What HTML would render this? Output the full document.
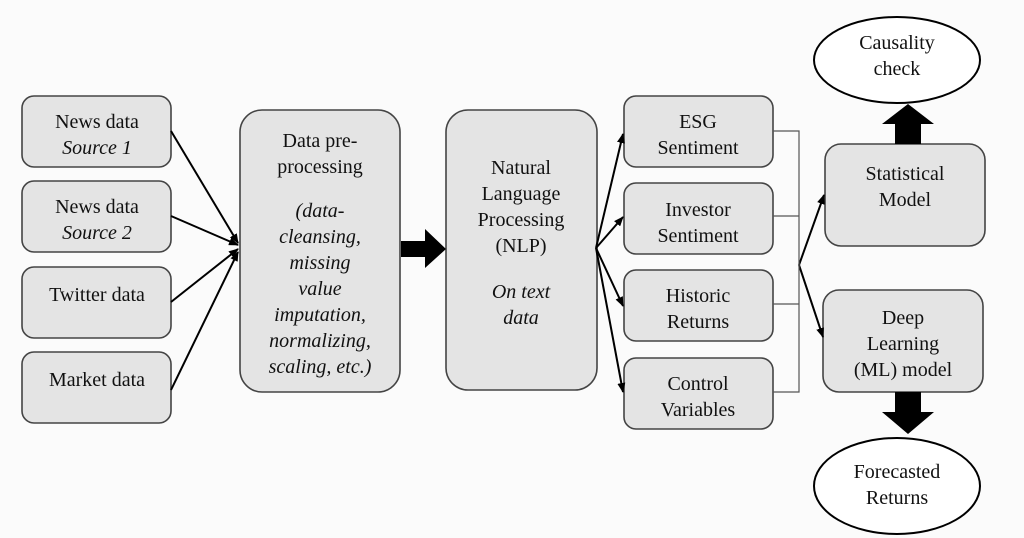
<!DOCTYPE html>
<html><head><style>
body{margin:0;background:#fff;}
svg{display:block;font-family:"Liberation Serif",serif;}
</style></head><body>
<svg width="1024" height="538" viewBox="0 0 1024 538">
<defs>
<marker id="a" markerWidth="10" markerHeight="8" refX="9" refY="4" orient="auto" markerUnits="userSpaceOnUse"><path d="M0,0 L10,4 L0,8z" fill="#000"/></marker>
</defs>
<rect width="1024" height="538" fill="#fbfbfb"/>
<g fill="#e4e4e4" stroke="#444" stroke-width="1.6">
<rect x="22" y="96" width="149" height="71" rx="12"/>
<rect x="22" y="181" width="149" height="71" rx="12"/>
<rect x="22" y="267" width="149" height="71" rx="12"/>
<rect x="22" y="352" width="149" height="71" rx="12"/>
<rect x="240" y="110" width="160" height="282" rx="22"/>
<rect x="446" y="110" width="151" height="280" rx="22"/>
<rect x="624" y="96" width="149" height="71" rx="12"/>
<rect x="624" y="183" width="149" height="71" rx="12"/>
<rect x="624" y="270" width="149" height="71" rx="12"/>
<rect x="624" y="358" width="149" height="71" rx="12"/>
<rect x="825" y="144" width="160" height="102" rx="16"/>
<rect x="823" y="290" width="160" height="102" rx="16"/>
</g>
<g stroke="#000" stroke-width="2" fill="none">
<line x1="171" y1="131" x2="238" y2="243" marker-end="url(#a)"/>
<line x1="171" y1="216" x2="238" y2="245" marker-end="url(#a)"/>
<line x1="171" y1="302" x2="238" y2="249" marker-end="url(#a)"/>
<line x1="171" y1="390" x2="238" y2="252" marker-end="url(#a)"/>
<line x1="596" y1="248" x2="623" y2="134" marker-end="url(#a)"/>
<line x1="596" y1="248" x2="623" y2="217" marker-end="url(#a)"/>
<line x1="596" y1="248" x2="623" y2="306" marker-end="url(#a)"/>
<line x1="596" y1="248" x2="623" y2="392" marker-end="url(#a)"/>
<line x1="799" y1="265" x2="824" y2="195" marker-end="url(#a)"/>
<line x1="799" y1="265" x2="823" y2="337" marker-end="url(#a)"/>
</g>
<path d="M773,131 H799 V392 H773 M773,216 H799 M773,304 H799" stroke="#555" stroke-width="1.2" fill="none"/>
<path d="M401,241 H425 V229 L446,249 L425,268 V257 H401z" fill="#000"/>
<path d="M895,144 V124 H882 L908,104 L934,124 H921 V144z" fill="#000"/>
<path d="M895,392 V412 H882 L908,434 L934,412 H921 V392z" fill="#000"/>
<ellipse cx="897" cy="60" rx="83" ry="43" fill="#fff" stroke="#000" stroke-width="2"/>
<ellipse cx="897" cy="486" rx="83" ry="48" fill="#fff" stroke="#000" stroke-width="2"/>
<g font-size="20" text-anchor="middle" fill="#111">
<text x="97" y="128">News data</text><text x="97" y="154" font-style="italic">Source 1</text>
<text x="97" y="213">News data</text><text x="97" y="239" font-style="italic">Source 2</text>
<text x="97" y="301">Twitter data</text>
<text x="97" y="386">Market data</text>
<text x="320" y="147">Data pre-</text><text x="320" y="173">processing</text>
<g font-style="italic"><text x="320" y="217">(data-</text><text x="320" y="243">cleansing,</text><text x="320" y="269">missing</text><text x="320" y="295">value</text><text x="320" y="321">imputation,</text><text x="320" y="347">normalizing,</text><text x="320" y="373">scaling, etc.)</text></g>
<text x="521" y="174">Natural</text><text x="521" y="200">Language</text><text x="521" y="226">Processing</text><text x="521" y="252">(NLP)</text>
<text x="521" y="298" font-style="italic">On text</text><text x="521" y="324" font-style="italic">data</text>
<text x="698" y="128">ESG</text><text x="698" y="154">Sentiment</text>
<text x="698" y="216">Investor</text><text x="698" y="242">Sentiment</text>
<text x="698" y="302">Historic</text><text x="698" y="328">Returns</text>
<text x="698" y="390">Control</text><text x="698" y="416">Variables</text>
<text x="905" y="180">Statistical</text><text x="905" y="206">Model</text>
<text x="903" y="324">Deep</text><text x="903" y="350">Learning</text><text x="903" y="376">(ML) model</text>
<text x="897" y="49">Causality</text><text x="897" y="75">check</text>
<text x="897" y="478">Forecasted</text><text x="897" y="504">Returns</text>
</g>
</svg>
</body></html>
